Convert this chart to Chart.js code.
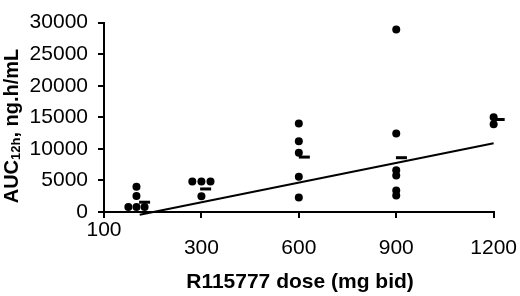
<!DOCTYPE html>
<html>
<head>
<meta charset="utf-8">
<script src="https://cdn.jsdelivr.net/npm/chart.js@4/dist/chart.umd.min.js"></script>
<style>
	html, body { margin: 0; padding: 0; background: #fff; }
	#wrap { width: 520px; height: 296px; }
</style>
</head>
<body>
<div id="wrap"><canvas id="myChart"></canvas></div>
<script>
// x axis ticks (the first tick sits at the origin but is labelled 100 in the source)
const doseTicks = [0, 300, 600, 900, 1200];
const doseTickLabels = ['100', '300', '600', '900', '1200'];

// individual patients, AUC 12h (ng.h/mL); small x shifts are the side-by-side dots
const patientDose = [75, 100, 125, 100, 100,
	272, 300, 328, 300,
	600, 600, 600, 600, 600,
	900, 900, 900, 900, 900, 900,
	1200, 1200];
const patientAuc = [800, 800, 800, 2550, 4000,
	4850, 4850, 4850, 2500,
	14000, 11200, 9400, 5600, 2300,
	28900, 12450, 6600, 5800, 3400, 2600,
	15000, 13900];

// group mean bars
const meanDose = [125, 313, 617, 916, 1217];
const meanAuc = [1550, 3650, 8700, 8600, 14650];

// regression line end points
const fitDose = [110, 1200];
const fitAuc = [-450, 10900];

const FONT = '"Liberation Sans", Arial, sans-serif';

const axisTitles = {
	id: 'axisTitles',
	afterDraw(chart) {
		const ctx = chart.ctx;
		ctx.save();
		ctx.fillStyle = '#000';

		// x 축 제목
		ctx.font = 'bold 21px ' + FONT;
		ctx.textAlign = 'center';
		ctx.textBaseline = 'alphabetic';
		ctx.fillText('R115777 dose (mg bid)', 300, 288);

		// y 축 제목 (아래첨자 포함)
		const big = 'bold 20px ' + FONT;
		const small = 'bold 13px ' + FONT;
		ctx.font = big;
		const w1 = ctx.measureText('AUC').width;
		const w3 = ctx.measureText(', ng.h/mL').width;
		ctx.font = small;
		const w2 = ctx.measureText('12h').width;
		const total = w1 + w2 + w3;

		ctx.translate(18, 126);
		ctx.rotate(-Math.PI / 2);
		ctx.textAlign = 'left';
		let x = -total / 2;
		ctx.font = big;
		ctx.fillText('AUC', x, 0);
		x += w1;
		ctx.font = small;
		ctx.fillText('12h', x, 2);
		x += w2;
		ctx.font = big;
		ctx.fillText(', ng.h/mL', x, 0);
		ctx.restore();
	}
};

let myChartInstance = null;

function renderChart(chartId) {
	const ctx = document.getElementById(chartId);
	if (!ctx) return;

	myChartInstance = new Chart(ctx, {
		type: 'scatter',
		data: {
			datasets: [
				{
					label: 'patients',
					data: patientDose.map((d, i) => ({ x: d, y: patientAuc[i] })),
					backgroundColor: '#000',
					borderColor: '#000',
					pointRadius: 4,
					borderWidth: 0,
					clip: false
				},
				{
					label: 'mean',
					data: meanDose.map((d, i) => ({ x: d, y: meanAuc[i] })),
					pointStyle: 'line',
					pointRadius: 5.5,
					borderColor: '#000',
					borderWidth: 3,
					clip: false
				},
				{
					label: 'fit',
					data: fitDose.map((d, i) => ({ x: d, y: fitAuc[i] })),
					showLine: true,
					borderColor: '#000',
					borderWidth: 2,
					pointRadius: 0,
					clip: false
				}
			]
		},
		options: {
			responsive: false,
			animation: false,
			devicePixelRatio: 1,
			layout: { padding: { top: 10, right: 23, left: 0, bottom: 0 } },
			plugins: {
				legend: { display: false },
				tooltip: { enabled: false }
			},
			scales: {
				x: {
					type: 'linear',
					min: 0,
					max: 1200,
					afterBuildTicks: (scale) => {
						scale.ticks = doseTicks.map(v => ({ value: v }));
					},
					afterFit: (scale) => { scale.height = 84; },
					border: { display: true, color: '#000', width: 2 },
					grid: {
						drawOnChartArea: false,
						drawTicks: true,
						tickLength: 6,
						color: '#000',
						lineWidth: 2
					},
					ticks: {
						color: '#000',
						font: { family: FONT, size: 21, lineHeight: 0.85 },
						padding: 3,
						maxRotation: 0,
						autoSkip: false,
						callback: (value, index) => index === 0 ? doseTickLabels[0] : ['', doseTickLabels[index]]
					}
				},
				y: {
					min: 0,
					max: 30000,
					afterFit: (scale) => { scale.width = 104; },
					border: { display: true, color: '#000', width: 2 },
					grid: {
						drawOnChartArea: false,
						drawTicks: true,
						tickLength: 6,
						color: '#000',
						lineWidth: 2
					},
					ticks: {
						stepSize: 5000,
						color: '#000',
						padding: 10,
						font: { family: FONT, size: 21 },
						callback: (value) => String(value)
					}
				}
			}
		},
		plugins: [axisTitles]
	});
}

window.onload = () => {
	const c = document.getElementById('myChart');
	c.width = 520;
	c.height = 296;
	renderChart('myChart');
};
</script>
</body>
</html>
